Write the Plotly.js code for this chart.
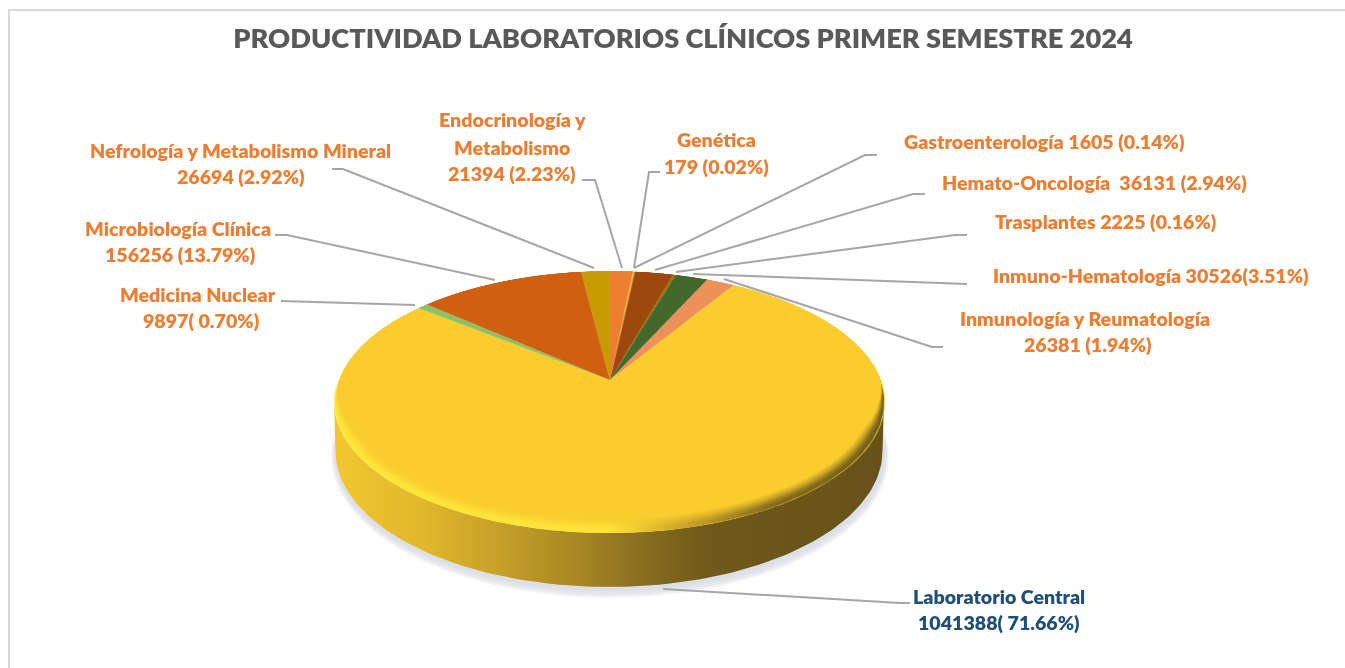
<!DOCTYPE html>
<html>
<head>
<meta charset="utf-8">
<script src="https://cdn.plot.ly/plotly-3.0.1.min.js"></script>
<style>
html,body{margin:0;padding:0;background:#fff;overflow:hidden;}
#under,#over{position:absolute;left:0;top:0;width:1345px;height:668px;}
#pie{position:absolute;left:335px;top:105px;width:550px;height:550px;transform-origin:275px 275px;}
</style>
</head>
<body>
<div id="under"></div>
<div id="pie"></div>
<div id="over"></div>
<script>
var chartTitle = "PRODUCTIVIDAD LABORATORIOS CLÍNICOS PRIMER SEMESTRE 2024";
var categories = ["Endocrinología y Metabolismo","Genética","Gastroenterología","Hemato-Oncología","Trasplantes","Inmuno-Hematología","Inmunología y Reumatología","Laboratorio Central","Medicina Nuclear","Microbiología Clínica","Nefrología y Metabolismo Mineral"];
var values = [21394,179,1605,36131,2225,30526,26381,1041388,9897,156256,26694];
var sliceColors = ["#ED7D31","#FFC000","#F2B12C","#9E480E","#997300","#43682B","#EB9159","#FACC2E","#8CC168","#D0600F","#C79A00"];
var labelTexts = ["Endocrinología y","Metabolismo","21394 (2.23%)","Genética","179 (0.02%)","Gastroenterología 1605 (0.14%)","Hemato-Oncología  36131 (2.94%)","Trasplantes 2225 (0.16%)","Inmuno-Hematología 30526(3.51%)","Inmunología y Reumatología","26381 (1.94%)","Laboratorio Central","1041388( 71.66%)","Medicina Nuclear","9897( 0.70%)","Microbiología Clínica","156256 (13.79%)","Nefrología y Metabolismo Mineral","26694 (2.92%)"];
var labelX = [512,512,512,716,716,1044,1094,1105,1151,1085,1088,999,999,198,201,178,180,240,241];
var labelY = [119,147,173,139,166,141,182,221,275,318,344,596,622,294,320,228,254,150,176];
var labelColor = "#ED7D31", centralColor = "#1F4E79";
var leaders = [
 [[634,268],[649,172],[660,172]],
 [[634,268],[865,155],[877,155]],
 [[655,270],[913,194],[925,194]],
 [[676,272],[955,235],[967,235]],
 [[693,274],[967,284]],
 [[724,279],[932,347],[943,347]],
 [[663,589],[900,603],[910,603]],
 [[281,301],[415,305]],
 [[275,235],[287,235],[495,280]],
 [[332,169],[343,169],[594,268]],
 [[582,180],[595,180],[622,268]]
];

var FONT = "Lato, 'Open Sans', sans-serif";
// perspective of the pie face
var R = 275, A = 127.3, B = 271, K = 0.168;
document.getElementById('pie').style.transform =
  'matrix3d('+[B/R,0,0,0, 0,A/R,0,-K/R, 0,0,1,0, 0,0,0,1].join(',')+')';

function ellipse(cx,cy,rx,ry,a0,a1,n){
  var xs=[],ys=[];
  for(var i=0;i<=n;i++){var t=(a0+(a1-a0)*i/n)*Math.PI/180;xs.push(cx+rx*Math.cos(t));ys.push(cy+ry*Math.sin(t));}
  return {x:xs,y:ys};
}
function blob(g,opts){
  var tr={x:g.x,y:g.y,mode:'lines',line:{width:0},fill:'toself',hoverinfo:'skip',showlegend:false};
  for(var k in opts) tr[k]=opts[k];
  return tr;
}
function frameLayout(){
  return {width:1345,height:668,margin:{l:0,r:0,t:0,b:0,pad:0},showlegend:false,
    paper_bgcolor:'rgba(0,0,0,0)',plot_bgcolor:'rgba(0,0,0,0)',
    xaxis:{range:[0,1345],visible:false,fixedrange:true},
    yaxis:{range:[668,0],visible:false,fixedrange:true}};
}
// side wall + drop shadow
var CX=609, CY=402, RX=275, RY=131, BY=451, BRY=136, BRX=273.5;
var shadowTraces=[[279,142,456],[278,141,455.5],[277,140,455],[276,139,454],[275,138,453]].map(function(s){
  return blob(ellipse(CX+1,s[2],s[0],s[1],0,360,180),{fillcolor:'rgba(205,208,220,0.2)'});
});
var top_=ellipse(CX,CY,RX,RY,180,0,120), bot=ellipse(CX,BY,BRX,BRY,0,180,120);
var wall=blob({x:top_.x.concat(bot.x),y:top_.y.concat(bot.y)},{
  fillgradient:{type:'horizontal',start:334,stop:884,colorscale:[[0,'#F2C72E'],[0.17,'#E0B62B'],[0.3,'#C6A029'],[0.45,'#A68623'],[0.55,'#8C7020'],[0.68,'#6F591A'],[1,'#665219']]}
});
var underLayout=frameLayout();
underLayout.paper_bgcolor='#ffffff';
Plotly.newPlot('under',shadowTraces.concat([wall]),underLayout,{staticPlot:true,displayModeBar:false});

// pie face
Plotly.newPlot('pie',[{type:'pie',labels:categories,values:values,sort:false,direction:'clockwise',rotation:0,
  marker:{colors:sliceColors,line:{width:0}},textinfo:'none',hoverinfo:'skip',domain:{x:[0,1],y:[0,1]}}],
  {width:550,height:550,margin:{l:0,r:0,t:0,b:0,pad:0},showlegend:false,paper_bgcolor:'rgba(0,0,0,0)'},
  {staticPlot:true,displayModeBar:false});

// bevel + labels
function crescent(W,a0,a1){
  var n=120,xs=[],ys=[],xi=[],yi=[];
  for(var i=0;i<=n;i++){
    var d=a0+(a1-a0)*i/n,t=d*Math.PI/180,
        w=W*Math.max(0,Math.min(1,(Math.sin(t)-Math.sin(a0*Math.PI/180))/0.4));
    xs.push(CX+RX*Math.cos(t));ys.push(CY+RY*Math.sin(t));
    xi.push(CX+(RX-w)*Math.cos(t));yi.push(CY+(RY-w)*Math.sin(t));
  }
  return {x:xs.concat(xi.reverse()),y:ys.concat(yi.reverse())};
}
var rimScale=function(a){return [[0,'rgba(255,232,58,'+a+')'],[0.5,'rgba(255,232,58,'+a+')'],[0.62,'rgba(205,165,40,'+a+')'],[0.8,'rgba(115,92,27,'+a+')'],[1,'rgba(100,80,24,'+a+')']];};
var rimTraces=[[14,0.12],[12,0.15],[10,0.2],[8,0.3],[6,0.4],[4,0.45]].map(function(r){
  return blob(crescent(r[0],-8,188),{fillgradient:{type:'horizontal',start:334,stop:884,colorscale:rimScale(r[1])}});
});
var overLayout=frameLayout();
overLayout.title={text:chartTitle,font:{family:FONT,size:27.2,weight:800,color:'#595959'},x:683/1345,xanchor:'center',xref:'paper',y:1-38.5/668,yanchor:'middle',yref:'paper'};
var framePaths=[[[9,668],[9,10],[1345,10]]].map(function(pts){
  return {type:'path',xref:'x',yref:'y',path:pts.map(function(p,i){return (i?'L':'M')+p[0]+','+p[1];}).join(' '),line:{color:'#D9D9D9',width:2}};
});
overLayout.shapes=framePaths.concat(leaders.map(function(pts){
  return {type:'path',xref:'x',yref:'y',path:pts.map(function(p,i){return (i?'L':'M')+p[0]+','+p[1];}).join(' '),line:{color:'#A6A6A6',width:2}};
}));
overLayout.annotations=labelTexts.map(function(t,i){
  var central=t.indexOf('Laboratorio')===0||t.indexOf('1041388')===0;
  return {xref:'x',yref:'y',x:labelX[i],y:labelY[i],text:t,showarrow:false,xanchor:'center',yanchor:'middle',
    font:{family:FONT,size:19.6,weight:800,color:central?centralColor:labelColor}};
});
Plotly.newPlot('over',rimTraces,overLayout,{staticPlot:true,displayModeBar:false});
</script>
</body>
</html>
